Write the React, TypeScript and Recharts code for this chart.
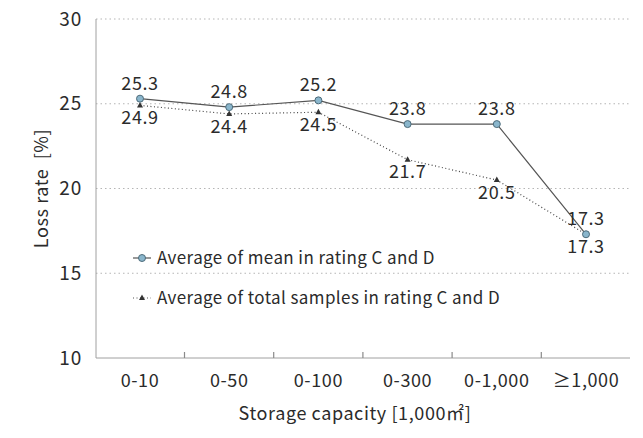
import {
  LineChart, Line, XAxis, YAxis, CartesianGrid, LabelList, Label,
} from 'recharts';

const categories = ['0-10', '0-50', '0-100', '0-300', '0-1,000', '≥1,000'];
const meanCD = [25.3, 24.8, 25.2, 23.8, 23.8, 17.3];
const totalCD = [24.9, 24.4, 24.5, 21.7, 20.5, 17.3];
const yTicks = [10, 15, 20, 25, 30];
const legendNames = ['Average of mean in rating C and D', 'Average of total samples in rating C and D'];

const data = categories.map((c, i) => ({ cat: c, mean: meanCD[i], total: totalCD[i] }));

const FONT = '"Noto Sans CJK KR", "Noto Sans", sans-serif';
const TEXT = '#2b2b2b';
const txt = { fontSize: 18, fill: TEXT, letterSpacing: 0.6 };
const HALF_STEP = 44.4;

const Triangle = (props: any) => {
  const { cx, cy } = props;
  if (cx == null || cy == null) return null;
  return <polygon points={`${cx},${cy - 3.5} ${cx - 3},${cy + 2} ${cx + 3},${cy + 2}`} fill="#333" />;
};

// category label plus a short inward tick at the boundary to the right
const CatTick = (props: any) => {
  const { x, y, payload } = props;
  const idx = categories.indexOf(payload.value);
  const axisY = y - 16;
  return (
    <g>
      {idx >= 0 && idx < categories.length - 1 && (
        <rect x={x + HALF_STEP - 0.5} y={axisY - 6} width={1.2} height={6} fill="#8a8a8a" />
      )}
      <text x={x} y={y} dy="0.71em" textAnchor="middle" fontSize={18} letterSpacing={0.6} fill={TEXT} fontFamily={FONT}>
        {payload.value}
      </text>
    </g>
  );
};

function LegendBox() {
  return (
    <svg width={460} height={70} style={{ position: 'absolute', left: 130, top: 246, overflow: 'visible' }}>
      <line x1={3} x2={21} y1={12} y2={12} stroke="#555" strokeWidth={1.2} />
      <circle cx={12} cy={12} r={3.5} fill="#8ab6cc" stroke="#4d6b7a" strokeWidth={1} />
      <text x={27} y={12} dy="0.35em" fontSize={17} letterSpacing={0.4} fill={TEXT} fontFamily={FONT}>
        {legendNames[0]}
      </text>
      <line x1={3} x2={21} y1={52} y2={52} stroke="#555" strokeWidth={1.2} strokeDasharray="1 2.5" />
      <polygon points="12,48.5 9,54 15,54" fill="#333" />
      <text x={27} y={52} dy="0.35em" fontSize={17} letterSpacing={0.4} fill={TEXT} fontFamily={FONT}>
        {legendNames[1]}
      </text>
    </svg>
  );
}

export default function App() {
  return (
    <div style={{ position: 'absolute', left: 0, top: 0, width: 643, height: 438, background: '#fff' }}>
      <LineChart
        width={643}
        height={438}
        data={data}
        margin={{ top: 19, right: 13, left: 0, bottom: 10 }}
        style={{ fontFamily: FONT }}
      >
        <CartesianGrid
          horizontal
          vertical={false}
          stroke="#b5b5b5"
          strokeDasharray="1.5 3"
          horizontalValues={[15, 20, 25, 30]}
        />
        <XAxis
          dataKey="cat"
          height={70}
          padding={{ left: 44, right: 44 }}
          tickLine={false}
          axisLine={{ stroke: '#a0a0a0' }}
          tick={<CatTick />}
          tickMargin={10}
          interval={0}
        >
          <Label
            value={'Storage\u00a0capacity\u00a0[1,000㎡]'}
            position="insideBottom"
            offset={8}
            dx={-8}
            style={{ fontSize: 18, fill: TEXT, letterSpacing: 0.6 }}
          />
        </XAxis>
        <YAxis
          width={96}
          domain={[10, 30]}
          ticks={yTicks}
          tickLine={false}
          axisLine={{ stroke: '#a0a0a0' }}
          tick={{ fontSize: 19, fill: TEXT, letterSpacing: 0.8 }}
          tickMargin={8}
        >
          <Label
            content={({ viewBox }: any) => {
              const cy = viewBox.y + viewBox.height / 2;
              return (
                <text
                  x={40}
                  y={cy}
                  transform={`rotate(-90 40 ${cy})`}
                  textAnchor="middle"
                  dominantBaseline="central"
                  fontSize={18}
                  letterSpacing={0.6}
                  fill={TEXT}
                  fontFamily={FONT}
                >
                  {'Loss rate\u00a0\u00a0[%]'}
                </text>
              );
            }}
          />
        </YAxis>
        <Line
          dataKey="total"
          stroke="#444"
          strokeWidth={1.2}
          strokeDasharray="1 2.5"
          dot={<Triangle />}
          activeDot={false}
          isAnimationActive={false}
        >
          <LabelList dataKey="total" position="bottom" offset={6} style={txt} />
        </Line>
        <Line
          dataKey="mean"
          stroke="#555"
          strokeWidth={1.2}
          dot={{ r: 3.5, fill: '#8ab6cc', stroke: '#4d6b7a', strokeWidth: 1 }}
          activeDot={false}
          isAnimationActive={false}
        >
          <LabelList dataKey="mean" position="top" offset={9} style={txt} />
        </Line>
      </LineChart>
      <LegendBox />
    </div>
  );
}
